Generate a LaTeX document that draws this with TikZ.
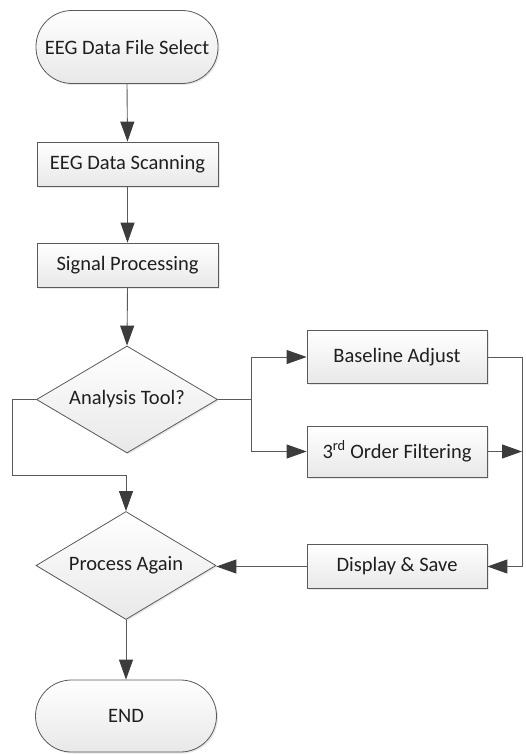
\documentclass[tikz,border=0pt]{standalone}
\usepackage{fontspec}
\setmainfont{Carlito}
\usetikzlibrary{arrows.meta,shapes.geometric,shadows}
\definecolor{edgecol}{HTML}{5A5A5A}
\definecolor{tipcol}{HTML}{3C3C3C}
\begin{document}
\begin{tikzpicture}[x=1pt,y=-1pt,
  lbl/.style={font=\fontsize{20.5}{24}\selectfont, text=black!88, inner sep=0pt},
  base/.style={lbl, draw=edgecol, line width=0.8pt, top color=white, bottom color=black!9,
    drop shadow={opacity=0.18, shadow xshift=1.5pt, shadow yshift=-1.5pt}},
  procbox/.style={base, rectangle, minimum width=181pt},
  termbox/.style={base, rectangle, rounded corners=36pt, minimum width=182pt, minimum height=73pt},
  decbox/.style={base, diamond, minimum width=181pt, minimum height=107pt},
  conn/.style={draw=edgecol, line width=0.9pt},
  arr/.style={conn, -{Triangle[length=20pt,width=14pt,fill=tipcol,color=tipcol]}}
]
\useasboundingbox (0,0) rectangle (526,754);
\node[termbox] (start) at (127,47) {EEG Data File Select};
\node[procbox, minimum height=44pt] (scan) at (127.5,164) {EEG Data Scanning};
\node[procbox, minimum height=44pt] (sig) at (127.5,265) {Signal Processing};
\node[decbox] (tool) at (127,399.5) {};
\node[lbl] (toolt) at (tool.center) {Analysis Tool?};
\node[procbox, minimum width=180pt, minimum height=53pt] (bl) at (397,357) {Baseline Adjust};
\node[procbox, minimum width=180pt, minimum height=51pt] (filt) at (397,451.5) {3\textsuperscript{rd} Order Filtering};
\node[procbox, minimum width=180pt, minimum height=44pt] (disp) at (397,566.5) {Display \& Save};
\node[decbox, minimum width=180pt, minimum height=108pt] (again) at (126,565.5) {};
\node[lbl] (againt) at (again.center) {Process Again};
\node[termbox, minimum width=181pt, minimum height=72pt] (stop) at (126,716) {END};

\coordinate (j) at (251,399.5);
\coordinate (r1) at (522,357);
\coordinate (r2) at (522,566.5);
\coordinate (l1) at (12,475);

\draw[arr] (start.south) -- (scan.north);
\draw[arr] (scan.south) -- (sig.north);
\draw[arr] (sig.south) -- (tool.north);
\draw[conn] (tool.east) -- (j);
\draw[arr] (j) |- (bl.west);
\draw[arr] (j) |- (filt.west);
\draw[conn] (bl.east) -- (r1);
\draw[arr] (r1) -- (r2) -- (disp.east);
\draw[arr] (filt.east) -- (filt.east -| r1);
\draw[arr] (disp.west) -- (disp.west -| again.east);
\draw[arr] (tool.west) -| (l1) -| (again.north);
\draw[arr] (again.south) -- (stop.north);
\end{tikzpicture}
\end{document}
